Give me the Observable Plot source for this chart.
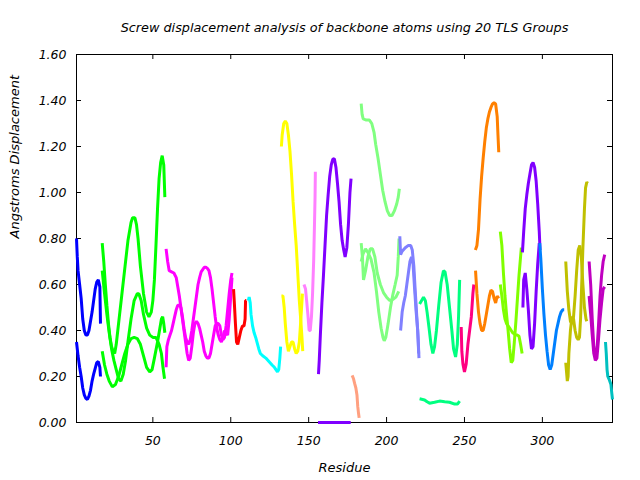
<!DOCTYPE html>
<html>
<head>
<meta charset="utf-8">
<script src="https://cdn.jsdelivr.net/npm/d3@7"></script>
<script src="https://cdn.jsdelivr.net/npm/@observablehq/plot@0.6"></script>
<style>
  html, body { margin: 0; padding: 0; background: #fff; }
</style>
</head>
<body>
<div id="chart"></div>
<script>
const chartTitle = "Screw displacement analysis of backbone atoms using 20 TLS Groups";
const xLabel = "Residue";
const yLabel = "Angstroms Displacement";
const xTicks = [50, 100, 150, 200, 250, 300];
const yTicks = [0, 0.2, 0.4, 0.6, 0.8, 1.0, 1.2, 1.4, 1.6];

const groupColors = ["#0000ff","#00ff00","#ff00ff","#ff0000","#00ffff","#ffff00","#ff80ff","#8000ff","#ffa080","#80ff80",
                     "#8080ff","#00ff80","#ff0080","#ff8000","#80ff00","#8000ff","#0080ff","#c0c000","#c000c0","#00c0c0"];

const g01a = [[1,0.80],[1.5,0.72],[2,0.66],[3,0.60],[4,0.54],[5,0.45],[6,0.40],[7,0.38],[8,0.38],[9,0.40],[10,0.44],[11,0.48],[12,0.53],[13,0.58],[14,0.61],[15,0.62],[16,0.59],[16.4,0.43]];
const g01b = [[1,0.35],[2,0.29],[3,0.24],[4,0.20],[5,0.15],[6,0.12],[7,0.105],[8,0.10],[9,0.115],[10,0.14],[11,0.18],[12,0.21],[13,0.235],[14,0.26],[15,0.265],[16,0.24],[16.4,0.20]];
const g02a = [[17.5,0.78],[18.5,0.70],[19.5,0.60],[20.5,0.51],[21.5,0.43],[22.5,0.37],[23.5,0.33],[24.5,0.31],[25.5,0.30],[26.5,0.34],[27.5,0.40],[28.5,0.46],[30,0.55],[32,0.67],[34,0.79],[36,0.87],[37,0.89],[38.5,0.89],[39.5,0.86],[40.5,0.80],[42,0.68],[44,0.56],[46,0.48],[47.5,0.46],[49,0.48],[50,0.53],[51,0.62],[52,0.77],[53,0.93],[54,1.06],[55,1.13],[56,1.16],[57,1.12],[57.7,0.98]];
const g02b = [[17.5,0.66],[19,0.56],[20.5,0.47],[22,0.39],[23.5,0.32],[25,0.27],[26.5,0.23],[28,0.19],[29.5,0.18],[31,0.21],[32.5,0.27],[34,0.35],[36,0.45],[38,0.53],[40,0.56],[41,0.56],[42.5,0.53],[44,0.47],[46,0.41],[48,0.38],[50,0.37],[52,0.37],[54,0.34],[55.5,0.30],[56.5,0.24],[57.5,0.19]];
const g02c = [[17.5,0.31],[19,0.25],[20.5,0.21],[22,0.18],[24,0.155],[26,0.165],[28,0.20],[30,0.25],[32,0.30],[34,0.34],[36,0.365],[38,0.37],[40,0.365],[42,0.34],[44,0.29],[46,0.24],[48,0.22],[49.5,0.23],[51,0.28],[53,0.35],[54.5,0.41],[55.5,0.45],[56.3,0.46],[57,0.43],[57.7,0.39]];
const g03a = [[58.5,0.755],[59.5,0.70],[60.5,0.66],[62,0.655],[63.5,0.65],[65,0.63],[66,0.59],[67,0.55],[68,0.50],[69,0.45],[70,0.40],[71,0.35],[72,0.30],[73,0.27],[74,0.28],[75,0.33],[76,0.39],[77,0.43],[78,0.44],[79,0.43],[80,0.41],[81,0.38],[82,0.35],[83,0.31],[84,0.29],[85,0.28],[86,0.28],[87,0.30],[88,0.34],[89,0.38],[90,0.42],[91,0.43],[92,0.43],[93,0.42],[94,0.38],[95,0.36],[96,0.37],[97,0.42],[98,0.49],[99,0.56],[100,0.62],[100.8,0.65]];
const g03b = [[58.5,0.24],[59,0.33],[60,0.36],[61,0.38],[62,0.40],[63,0.43],[64,0.46],[65,0.49],[66,0.51],[67,0.51],[68,0.50],[69,0.46],[70,0.41],[71,0.37],[72,0.35],[73,0.34],[74,0.36],[75,0.40],[76,0.45],[77,0.50],[78,0.55],[79,0.60],[80,0.63],[81,0.655],[82,0.665],[83,0.675],[84,0.675],[85,0.67],[86,0.66],[87,0.63],[88,0.58],[89,0.52],[90,0.46],[91,0.41],[92,0.38],[93,0.36],[94,0.35],[95,0.37],[96,0.40],[97,0.39],[98,0.38],[99,0.45],[100,0.55],[100.8,0.63]];
const g04 = [[101.8,0.58],[102.3,0.52],[103,0.43],[103.7,0.35],[104.5,0.34],[105.5,0.37],[106.5,0.40],[107.5,0.42],[108.5,0.42],[109.2,0.45],[109.5,0.53],[110,0.53]];
const g05 = [[111.3,0.53],[111.8,0.545],[112.5,0.52],[113,0.47],[114,0.42],[115,0.39],[116,0.37],[117,0.345],[118,0.32],[119,0.30],[120.5,0.29],[122.5,0.28],[124.5,0.265],[126.5,0.25],[128,0.24],[129,0.23],[130,0.22],[130.8,0.23],[131.5,0.28],[132,0.33]];
const g06a = [[132.5,1.20],[133,1.25],[134,1.30],[135,1.31],[136,1.30],[137,1.25],[138,1.18],[139,1.08],[140,0.96],[141,0.86],[142,0.77],[143,0.65],[144,0.53],[145,0.44],[145.7,0.37],[146.2,0.31]];
const g06b = [[132.5,0.55],[133.5,0.55],[134.3,0.50],[135,0.43],[136,0.35],[137,0.31],[138,0.33],[139,0.35],[140,0.35],[141,0.32],[142,0.30],[143,0.31],[144,0.35],[145,0.45],[146,0.56]];
const g07 = [[147,0.60],[148,0.58],[148.7,0.53],[149.5,0.47],[150.3,0.40],[151,0.40],[151.8,0.46],[152.5,0.56],[153.2,0.70],[153.7,0.85],[154.1,0.98],[154.3,1.09]];
const g08a = [[156.3,0.21],[156.8,0.27],[157.5,0.38],[158.5,0.52],[159.5,0.64],[160.5,0.77],[161.5,0.90],[162.5,0.99],[163.5,1.07],[164.5,1.12],[165.5,1.145],[166.5,1.147],[167.5,1.11],[168.5,1.04],[169.5,0.96],[170.5,0.86],[171.5,0.79],[172.5,0.75],[173.4,0.72],[174.5,0.76],[175.5,0.86],[176.5,1.00],[177.2,1.06]];
const g08b = [[156,0],[160,0],[165,0],[170,0],[177,0]];
const g09 = [[177.9,0.205],[178.8,0.19],[179.5,0.17],[180.3,0.15],[181,0.12],[181.5,0.07],[182,0.04],[182.4,0.02]];
const g10a = [[183.7,1.386],[184.3,1.34],[185,1.32],[187,1.315],[189,1.315],[190.5,1.30],[192,1.26],[193,1.21],[194.5,1.15],[196,1.08],[197.5,1.01],[199,0.96],[200.5,0.92],[202,0.90],[203.5,0.90],[205,0.92],[206.5,0.95],[207.5,0.98],[208.2,1.016]];
const g10b = [[183.7,0.78],[184.5,0.72],[185.2,0.62],[186.5,0.66],[188,0.72],[189.5,0.755],[191,0.755],[192.5,0.72],[194,0.65],[196,0.60],[198,0.565],[200,0.545],[202,0.53],[204,0.535],[206,0.545],[207.8,0.57]];
const g10c = [[183.7,0.70],[185,0.735],[186.5,0.755],[188,0.74],[190,0.71],[192,0.65],[193.5,0.57],[195,0.48],[196.5,0.41],[197.7,0.37],[198.5,0.355],[199.5,0.37],[201,0.43],[202.5,0.50],[204,0.555],[205.5,0.60],[206.8,0.64],[207.5,0.72],[208,0.80]];
const g11a = [[208.5,0.81],[209,0.73],[210,0.745],[212,0.76],[214,0.77],[215.5,0.77],[216.5,0.75],[217.5,0.68],[218.5,0.56],[219.5,0.45],[220.3,0.36],[220.8,0.28]];
const g11b = [[209,0.40],[210,0.48],[211,0.52],[212,0.55],[213,0.60],[214,0.65],[215,0.70],[216,0.72],[217,0.69],[218,0.58],[219,0.48],[220,0.40],[220.6,0.30]];
const g12a = [[221.2,0.515],[222.5,0.53],[223.7,0.545],[224.9,0.53],[226,0.48],[227.2,0.415],[228.5,0.34],[229.7,0.30],[230.8,0.33],[232,0.40],[233.5,0.51],[235,0.61],[236.5,0.66],[237.5,0.655],[238.9,0.60],[240.4,0.50],[241.9,0.40],[243,0.32],[244.3,0.285],[245.4,0.34],[246.2,0.46],[246.9,0.62]];
const g12b = [[221.2,0.103],[224.4,0.098],[226,0.09],[227.6,0.084],[230.8,0.088],[234,0.093],[237.3,0.09],[240.4,0.088],[243.7,0.08],[245.5,0.08],[246.9,0.093]];
const g13 = [[247.9,0.415],[248.3,0.31],[249,0.255],[250,0.22],[251.1,0.255],[252.2,0.34],[253.3,0.40],[254.4,0.46],[255.4,0.56],[256,0.60]];
const g14a = [[257,0.75],[258,0.77],[259,0.84],[260,0.97],[261,1.07],[262,1.15],[263,1.22],[264,1.28],[265,1.32],[266,1.35],[267,1.37],[268,1.385],[269,1.39],[270,1.385],[271,1.33],[271.5,1.25],[272,1.175]];
const g14b = [[257.1,0.66],[258,0.56],[259,0.48],[260,0.43],[261,0.40],[262,0.40],[263,0.43],[264,0.47],[265,0.51],[266,0.55],[267,0.575],[268,0.57],[269,0.54],[270,0.52],[271,0.55],[272,0.54]];
const g15a = [[273,0.83],[274,0.77],[275,0.65],[276,0.55],[277,0.47],[278,0.40],[279,0.32],[280,0.26],[281,0.27],[282,0.35],[283,0.44],[284,0.54],[285,0.64],[286,0.72],[286.5,0.76]];
const g15b = [[273,0.60],[274,0.55],[275,0.49],[276,0.45],[277,0.43],[278,0.42],[279,0.41],[280,0.40],[281,0.39],[282,0.385],[283,0.38],[284,0.38],[285,0.375],[286,0.34],[287,0.30]];
const g16a = [[287.2,0.74],[288,0.83],[289,0.93],[290,0.99],[291,1.04],[292,1.08],[293,1.12],[294,1.13],[295,1.11],[296,1.05],[297,0.95],[298,0.83],[298.5,0.75]];
const g16b = [[287.5,0.50],[288,0.62],[289,0.65],[290,0.58],[291,0.49],[292,0.38],[293,0.32],[294,0.33],[295,0.43],[296,0.57],[297,0.69],[298,0.78]];
const g17 = [[298.3,0.78],[299,0.71],[300,0.58],[301,0.47],[302,0.38],[303,0.31],[304,0.25],[305,0.23],[306,0.25],[307,0.30],[308,0.35],[309,0.40],[310,0.43],[311,0.46],[312,0.48],[313,0.49],[314,0.49]];
const g18a = [[315,0.70],[316,0.57],[317,0.49],[318,0.44],[319,0.43],[320,0.46],[321,0.55],[322,0.66],[323,0.75],[324,0.77],[325,0.72],[326,0.60],[327,0.50],[328,0.45],[328.5,0.44]];
const g18b = [[315,0.26],[316,0.18],[316.5,0.20],[317,0.30],[318,0.40],[319,0.46],[320,0.45],[321,0.40],[322,0.37],[323,0.36],[323.8,0.37],[324.5,0.45],[325,0.55],[326,0.76],[327,0.93],[327.7,1.02],[328.5,1.045],[329,1.04]];
const g19a = [[330,0.70],[331,0.60],[332,0.45],[333,0.33],[334,0.29],[335,0.31],[336,0.42],[337,0.55],[338,0.64],[339,0.70],[340,0.73]];
const g19b = [[330,0.55],[331,0.47],[332,0.38],[333,0.30],[334,0.27],[335,0.28],[336,0.36],[337,0.45],[338,0.52],[339,0.58],[340,0.59]];
const g20 = [[340.5,0.35],[341,0.30],[341.5,0.23],[342,0.20],[343,0.185],[344,0.165],[344.5,0.13],[345,0.10]];

// [series name, TLS group number, points]
const seriesList = [
  ["g01a",1,g01a],["g01b",1,g01b],
  ["g02a",2,g02a],["g02b",2,g02b],["g02c",2,g02c],
  ["g03a",3,g03a],["g03b",3,g03b],
  ["g04",4,g04],["g05",5,g05],
  ["g06a",6,g06a],["g06b",6,g06b],
  ["g07",7,g07],
  ["g08a",8,g08a],["g08b",8,g08b],
  ["g09",9,g09],
  ["g10a",10,g10a],["g10b",10,g10b],["g10c",10,g10c],
  ["g11a",11,g11a],["g11b",11,g11b],
  ["g12a",12,g12a],["g12b",12,g12b],
  ["g13",13,g13],
  ["g14a",14,g14a],["g14b",14,g14b],
  ["g15a",15,g15a],["g15b",15,g15b],
  ["g16a",16,g16a],["g16b",16,g16b],
  ["g17",17,g17],
  ["g18a",18,g18a],["g18b",18,g18b],
  ["g19a",19,g19a],["g19b",19,g19b],
  ["g20",20,g20]
];

const rows = seriesList.flatMap(([id, group, pts]) =>
  pts.map(([x, y]) => ({id, color: groupColors[group - 1], x, y})));

const W = 640, H = 480;
const mL = 76, mR = 28, mT = 54, mB = 58;
const fw = W - mL - mR, fh = H - mT - mB;
const tick = 5;

const chart = Plot.plot({
  width: W, height: H,
  marginLeft: mL, marginRight: mR, marginTop: mT, marginBottom: mB,
  style: {fontFamily: "'DejaVu Sans', sans-serif", fontSize: "12.5px", fontStyle: "italic", background: "#fff", color: "#000"},
  x: {domain: [1, 345]},
  y: {domain: [0, 1.6]},
  color: {type: "identity"},
  marks: [
    Plot.frame({stroke: "#000", strokeWidth: 1}),
    Plot.tickX(xTicks, {x: d => d, stroke: "#000", insetTop: fh - tick}),
    Plot.tickX(xTicks, {x: d => d, stroke: "#000", insetBottom: fh - tick}),
    Plot.tickY(yTicks, {y: d => d, stroke: "#000", insetRight: fw - tick}),
    Plot.tickY(yTicks, {y: d => d, stroke: "#000", insetLeft: fw - tick}),
    Plot.line(rows, {x: "x", y: "y", z: "id", stroke: "color", strokeWidth: 3, strokeLinejoin: "miter", strokeLinecap: "butt", clip: false}),
    Plot.axisX({ticks: xTicks, tickSize: 0, tickPadding: 14, label: null, fontSize: 12.5}),
    Plot.axisY({ticks: yTicks, tickSize: 0, tickPadding: 10, tickFormat: d3.format(".2f"), label: null, fontSize: 12.5}),
    Plot.text([chartTitle], {text: d => d, frameAnchor: "top", dy: -27, lineAnchor: "middle", fontSize: 12.8}),
    Plot.text([xLabel], {text: d => d, frameAnchor: "bottom", dy: 45, lineAnchor: "middle", fontSize: 13}),
    Plot.text([yLabel], {text: d => d, frameAnchor: "left", dx: -62, rotate: -90, lineAnchor: "middle", fontSize: 13})
  ]
});
document.getElementById("chart").appendChild(chart);
</script>
</body>
</html>
